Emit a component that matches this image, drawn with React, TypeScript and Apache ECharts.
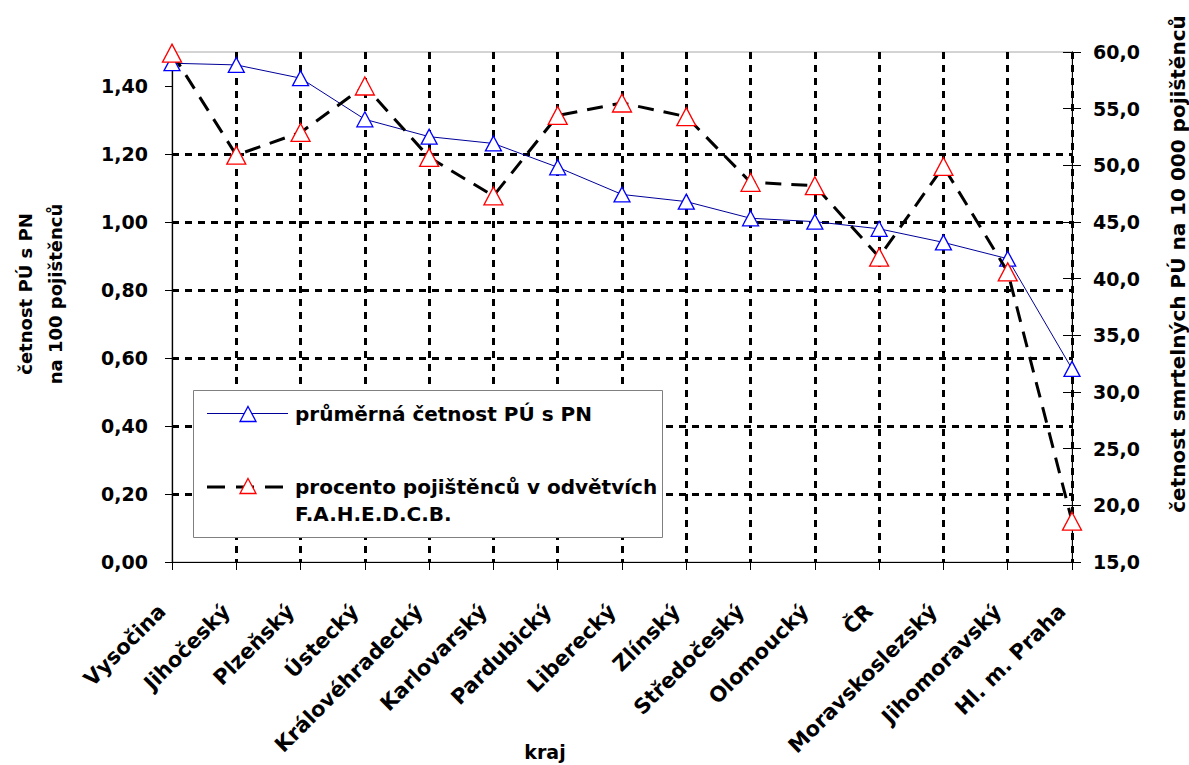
import React, { useEffect, useRef } from "react";
import * as echarts from "echarts";

const categories = [
  "Vysočina", "Jihočeský", "Plzeňský", "Ústecký", "Královéhradecký", "Karlovarský",
  "Pardubický", "Liberecký", "Zlínský", "Středočeský", "Olomoucký", "ČR",
  "Moravskoslezský", "Jihomoravský", "Hl. m. Praha",
];
const avgFrequency = [1.467, 1.462, 1.423, 1.302, 1.251, 1.231, 1.161, 1.081, 1.06, 1.011, 1.001, 0.98, 0.94, 0.892, 0.568];
const fatalFrequency = [59.9, 50.9, 52.9, 57.0, 50.7, 47.3, 54.4, 55.5, 54.3, 48.5, 48.2, 41.9, 49.9, 40.6, 18.6];
const leftTicks = [0, 0.2, 0.4, 0.6, 0.8, 1.0, 1.2, 1.4];
const seriesNames = ["průměrná četnost PÚ s PN", "procento pojištěnců v odvětvích F.A.H.E.D.C.B."];
const legendText1 = ["průměrná četnost PÚ s PN"];
const legendText2 = ["procento pojištěnců v odvětvích", "F.A.H.E.D.C.B."];
const leftAxisName = ["četnost PÚ s PN", "na 100 pojištěnců"];
const rightAxisName = "četnost smrtelných PÚ na 10 000 pojištěnců";
const xAxisName = "kraj";

const FONT = "'DejaVu Sans', 'Liberation Sans', Arial, sans-serif";

function tri(cx: number, cy: number, w: number, h: number) {
  return [
    [cx, cy - h / 2],
    [cx + w / 2, cy + h / 2],
    [cx - w / 2, cy + h / 2],
  ];
}

function txt(text: string, x: number, y: number, size: number, align: string, rotation = 0) {
  return {
    type: "text",
    x,
    y,
    rotation,
    z: 100,
    style: {
      text,
      fill: "#000",
      font: `bold ${size}px ${FONT}`,
      align,
      verticalAlign: "middle",
      textAlign: align,
      textVerticalAlign: "middle",
    },
  };
}

export default function App() {
  const ref = useRef<HTMLDivElement>(null);
  useEffect(() => {
    document.body.style.margin = "0";
    const chart = echarts.init(ref.current!, null, { renderer: "svg" });
    const grid = "#000";
    const option: any = {
      animation: false,
      backgroundColor: "#fff",
      grid: {
        left: 172,
        right: 117,
        top: 52,
        bottom: 203,
        show: true,
        borderColor: "#a8a8a8",
        borderWidth: 1,
      },
      xAxis: {
        type: "category",
        data: categories,
        boundaryGap: false,
        axisLine: { lineStyle: { color: "#000", width: 1 } },
        axisTick: { show: true, length: 8, lineStyle: { color: "#000" } },
        axisLabel: {
          interval: 0,
          rotate: 45,
          margin: 36,
          padding: [0, 14, 0, 0],
          color: "#000",
          fontSize: 21,
          fontWeight: "bold",
          fontFamily: FONT,
        },
        splitLine: {
          show: true,
          showMinLine: false,
          lineStyle: { color: grid, width: 3, type: [7, 6] },
        },
      },
      yAxis: [
        {
          type: "value",
          min: 0,
          max: 1.5,
          interval: 0.2,
          position: "left",
          axisLine: { show: true, lineStyle: { color: "#000", width: 1.3 } },
          axisTick: { show: true, length: 7, lineStyle: { color: "#000" }, customValues: leftTicks },
          axisLabel: {
            customValues: leftTicks,
            margin: 24,
            color: "#000",
            fontSize: 19,
            fontWeight: "bold",
            fontFamily: FONT,
            formatter: (v: number) => (v > 1.45 ? "" : v.toFixed(2).replace(".", ",")),
          },
          splitLine: {
            show: true,
            showMinLine: false,
            showMaxLine: false,
            lineStyle: { color: grid, width: 3, type: [7, 6] },
          },
        },
        {
          type: "value",
          min: 15,
          max: 60,
          interval: 5,
          position: "right",
          axisLine: { show: true, lineStyle: { color: "#000", width: 1 } },
          axisTick: { show: true, length: 9, lineStyle: { color: "#000" } },
          axisLabel: {
            margin: 21,
            color: "#000",
            fontSize: 19,
            fontWeight: "bold",
            fontFamily: FONT,
            formatter: (v: number) => v.toFixed(1).replace(".", ","),
          },
          splitLine: { show: false },
        },
        {
          type: "value",
          min: 15,
          max: 60,
          interval: 5,
          position: "right",
          axisLine: { show: true, lineStyle: { color: "#000", width: 1 } },
          axisTick: { show: true, inside: true, length: 9, lineStyle: { color: "#000" } },
          axisLabel: { show: false },
          splitLine: { show: false },
        },
      ],
      series: [
        {
          name: seriesNames[0],
          type: "line",
          yAxisIndex: 0,
          data: avgFrequency,
          clip: false,
          symbol: "triangle",
          symbolSize: [16, 15],
          itemStyle: { color: "#fff", borderColor: "#0000ff", borderWidth: 1.3 },
          lineStyle: { color: "#000099", width: 1 },
          z: 3,
        },
        {
          name: seriesNames[1],
          type: "line",
          yAxisIndex: 1,
          data: fatalFrequency,
          clip: false,
          symbol: "triangle",
          symbolSize: [19, 18],
          itemStyle: { color: "#fff", borderColor: "#ff0000", borderWidth: 1.3 },
          lineStyle: { color: "#000", width: 3, type: [16, 10] },
          z: 4,
        },
      ],
      graphic: [
        {
          type: "rect",
          z: 90,
          shape: { x: 193.5, y: 390.5, width: 469, height: 147 },
          style: { fill: "#fff", stroke: "#808080", lineWidth: 1 },
        },
        {
          type: "line",
          z: 91,
          shape: { x1: 207, y1: 413.5, x2: 288, y2: 413.5 },
          style: { stroke: "#000099", lineWidth: 1 },
        },
        {
          type: "polygon",
          z: 92,
          shape: { points: tri(248, 414, 16, 15) },
          style: { fill: "#fff", stroke: "#0000ff", lineWidth: 1.3 },
        },
        {
          type: "line",
          z: 91,
          shape: { x1: 207, y1: 487, x2: 288, y2: 487 },
          style: { stroke: "#000", lineWidth: 3, lineDash: [18, 11] },
        },
        {
          type: "polygon",
          z: 92,
          shape: { points: tri(248, 486, 16, 15) },
          style: { fill: "#fff", stroke: "#ff0000", lineWidth: 1.3 },
        },
        txt(legendText1[0], 295, 414, 20, "left"),
        txt(legendText2[0], 295, 487, 20, "left"),
        txt(legendText2[1], 295, 514, 20, "left"),
        txt(leftAxisName[0], 25, 294, 18, "center", Math.PI / 2),
        txt(leftAxisName[1], 55, 294, 18, "center", Math.PI / 2),
        txt(rightAxisName, 1178, 264, 20, "center", Math.PI / 2),
        txt(xAxisName, 545, 752, 19, "center"),
      ],
    };
    chart.setOption(option);
    return () => chart.dispose();
  }, []);
  return <div ref={ref} style={{ width: 1189, height: 765 }} />;
}
